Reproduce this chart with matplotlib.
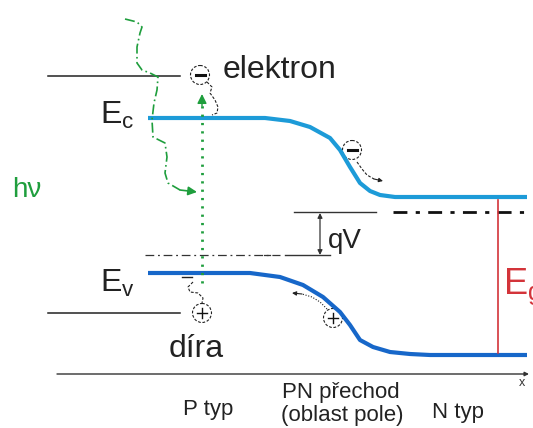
import matplotlib.pyplot as plt
from matplotlib.patches import Circle

plt.rcParams['font.family'] = ['Liberation Sans', 'DejaVu Sans']
plt.rcParams['mathtext.fontset'] = 'custom'
plt.rcParams['mathtext.rm'] = 'Liberation Sans'
plt.rcParams['mathtext.it'] = 'Liberation Sans'

# band edges (pixel coordinates, y downwards)
cb_x = [148, 265, 290, 310, 330, 340, 350, 360, 370, 380, 395, 527]
cb_y = [118, 118, 121, 127, 138, 150, 167, 183, 191, 195, 197, 197]
vb_x = [148, 250, 280, 303, 323, 340, 350, 360, 373, 390, 410, 430, 527]
vb_y = [273, 273, 277, 285, 297, 312, 325, 340, 347, 352, 354, 355, 355]

# photon path (wavy green)
ph_x = [125, 137, 142, 140, 137, 137, 142, 150, 158, 157, 154, 152, 153, 165, 167, 165, 168, 180, 197]
ph_y = [19, 22, 27, 33, 47, 63, 70, 73, 77, 90, 103, 120, 137, 143, 157, 173, 183, 190, 192]

# small dashed squiggles next to the generated pair
sq_top_x = [207, 212, 210, 215, 218, 217, 212]
sq_top_y = [82, 87, 93, 100, 107, 113, 115]
sq_bot_x = [193, 188, 190, 198, 203, 202]
sq_bot_y = [282, 287, 292, 293, 298, 303]

# drift of carriers in the junction field
el_x = [357, 362, 367, 374, 383]
el_y = [162, 169, 175, 179, 181]
ho_x = [327, 320, 312, 302, 292]
ho_y = [309, 302, 297, 294, 293]

levels_left = [76, 313]      # black levels on the left
fermi_p, fermi_n = 255, 212
eg_x = 498
axis_y = 374

c_cb = '#1d9bd8'
c_vb = '#1767c9'
c_red = '#d3343a'
c_green = '#1f9e3d'

fig = plt.figure(figsize=(5.33, 4.28), dpi=100)
ax = fig.add_axes([0, 0, 1, 1])
ax.set_xlim(0, 533)
ax.set_ylim(428, 0)
ax.axis('off')

# black levels on the left
for y in levels_left:
    ax.plot([48, 180], [y, y], color='#222222', lw=1.1)

# Fermi levels
ax.plot([145, 280], [fermi_p, fermi_p], color='#333333', lw=0.9, ls=(0, (7, 3, 1.5, 3)))
ax.plot([264, 270], [fermi_p, fermi_p], color='#333333', lw=0.9)
ax.plot([285, 330], [fermi_p, fermi_p], color='#333333', lw=1.0)
ax.plot([294, 376], [fermi_n, fermi_n], color='#333333', lw=1.0)
ax.plot([393, 527], [fermi_n, fermi_n], color='#111111', lw=2.0, ls=(0, (5, 3, 1.5, 3)))
ax.annotate('', xy=(320, fermi_n + 1), xytext=(320, fermi_p),
            arrowprops=dict(arrowstyle='<|-|>', color='#333333', lw=0.9,
                            mutation_scale=7, shrinkA=0, shrinkB=0))
ax.text(328, 248, 'qV', fontsize=20, color='#222222')

# bands
ax.plot(cb_x, cb_y, color=c_cb, lw=3.0, solid_capstyle='butt', solid_joinstyle='round')
ax.plot(vb_x, vb_y, color=c_vb, lw=3.0, solid_capstyle='butt', solid_joinstyle='round')

# band gap
ax.plot([eg_x, eg_x], [cb_y[-1] + 3, vb_y[-1] - 2], color=c_red, lw=1.2)
ax.text(503, 294, r'$\mathrm{E}_{\mathrm{g}}$', fontsize=26, color=c_red)

# x axis
ax.annotate('', xy=(529, axis_y), xytext=(57, axis_y),
            arrowprops=dict(arrowstyle='-|>', color='#333333', lw=1.0,
                            mutation_scale=6, shrinkA=0, shrinkB=0))
ax.text(519, 386, 'x', fontsize=9, color='#333333')

# photon
ax.plot(ph_x[:-1], ph_y[:-1], color=c_green, lw=1.2, ls=(0, (6, 2, 1, 2)))
ax.annotate('', xy=(ph_x[-1], ph_y[-1]), xytext=(ph_x[-2], ph_y[-2]),
            arrowprops=dict(arrowstyle='-|>', color=c_green, lw=1.2,
                            mutation_scale=13, shrinkA=0, shrinkB=0))
ax.text(12, 197, 'hν', fontsize=20, color=c_green)

# excitation of the electron
ax.plot([202, 202], [283, 104], color=c_green, lw=2.0, ls=(0, (0.8, 2.2)))
ax.annotate('', xy=(202, 94), xytext=(202, 106),
            arrowprops=dict(arrowstyle='-|>', color=c_green, lw=1.0,
                            mutation_scale=14, shrinkA=0, shrinkB=0))

# carriers
for cx, cy, sign in [(200, 75, '−'), (352, 150, '−'), (202, 313, '+'), (333, 318, '+')]:
    ax.add_patch(Circle((cx, cy), 9.5, fill=False, ec='#222222', lw=0.8, ls=(0, (2.5, 1.5))))
    if sign == '−':
        ax.plot([cx - 4.5, cx + 4.5], [cy, cy], color='#111111', lw=2.2)
    else:
        ax.plot([cx - 5, cx + 5], [cy, cy], color='#111111', lw=1.0)
        ax.plot([cx, cx], [cy - 5, cy + 5], color='#111111', lw=1.0)

ax.plot(sq_top_x, sq_top_y, color='#222222', lw=0.8, ls=(0, (2.5, 1.5)))
ax.plot([182, 192], [277, 277], color='#222222', lw=1.0)
ax.plot(sq_bot_x, sq_bot_y, color='#222222', lw=0.8, ls=(0, (2.5, 1.5)))

ax.plot(el_x[:-1], el_y[:-1], color='#222222', lw=0.8, ls=(0, (2.5, 1.5)))
ax.annotate('', xy=(el_x[-1], el_y[-1]), xytext=(el_x[-2], el_y[-2]),
            arrowprops=dict(arrowstyle='-|>', color='#222222', lw=0.8,
                            mutation_scale=6, shrinkA=0, shrinkB=0))
ax.plot(ho_x[:-1], ho_y[:-1], color='#222222', lw=0.8, ls=(0, (1, 1.5)))
ax.annotate('', xy=(ho_x[-1], ho_y[-1]), xytext=(ho_x[-2], ho_y[-2]),
            arrowprops=dict(arrowstyle='-|>', color='#222222', lw=0.8,
                            mutation_scale=6, shrinkA=0, shrinkB=0))

# labels
ax.text(223, 78, 'elektron', fontsize=23, color='#222222')
ax.text(169, 357, 'díra', fontsize=23, color='#222222')
ax.text(100, 124, r'$\mathrm{E}_{\mathrm{c}}$', fontsize=23, color='#222222')
ax.text(100, 292, r'$\mathrm{E}_{\mathrm{v}}$', fontsize=23, color='#222222')

ax.text(183, 415, 'P typ', fontsize=16, color='#222222')
ax.text(341, 398, 'PN přechod', fontsize=16, color='#222222', ha='center')
ax.text(342, 421, '(oblast pole)', fontsize=16, color='#222222', ha='center')
ax.text(432, 418, 'N typ', fontsize=16, color='#222222')

fig.savefig('out.png', dpi=100)
